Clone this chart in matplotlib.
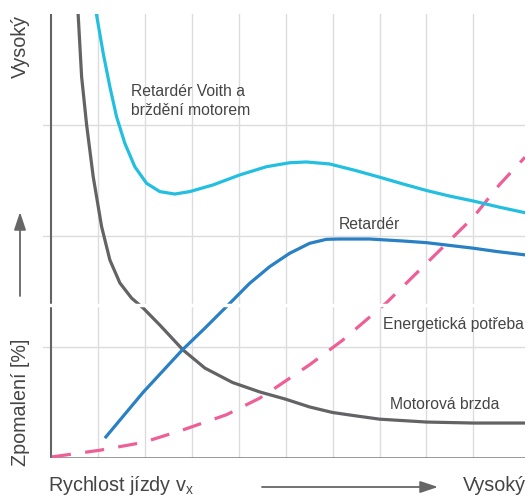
import matplotlib
matplotlib.use("Agg")
import matplotlib.pyplot as plt

plt.rcParams['font.family'] = ['Liberation Sans', 'DejaVu Sans']

# Data (x: speed units, y: deceleration units)
motor_x = [0.58, 0.653, 0.76, 0.90, 1.079, 1.255, 1.468, 1.717, 1.964, 2.319, 2.815, 3.28, 3.87,
           4.45, 5.0, 5.51, 6.0, 6.49, 7.0, 8.0, 9.0, 10.1]
motor_y = [3.99, 3.435, 3.0, 2.534, 2.084, 1.784, 1.577, 1.441, 1.351, 1.198, 0.973, 0.81, 0.68,
           0.595, 0.53, 0.46, 0.41, 0.38, 0.35, 0.324, 0.315, 0.315]

voith_x = [0.972, 1.113, 1.255, 1.397, 1.574, 1.787, 2.036, 2.319, 2.638, 2.957, 3.453, 4.021,
           4.589, 5.085, 5.44, 5.936, 6.49, 7.0, 7.49, 8.0, 8.49, 9.0, 9.55, 10.1]
voith_y = [3.99, 3.646, 3.345, 3.075, 2.835, 2.624, 2.475, 2.4, 2.378, 2.4, 2.46, 2.55,
           2.624, 2.66, 2.667, 2.649, 2.59, 2.53, 2.47, 2.41, 2.36, 2.315, 2.26, 2.21]

ret_x = [1.17, 1.96, 2.79, 3.28, 3.809, 4.234, 4.66, 5.085, 5.51, 5.866, 6.149, 6.787, 7.5,
         8.0, 8.5, 9.0, 9.5, 10.1]
ret_y = [0.19, 0.59, 0.97, 1.17, 1.393, 1.574, 1.724, 1.844, 1.934, 1.97, 1.973, 1.973, 1.955,
         1.94, 1.915, 1.89, 1.86, 1.83]

energy_x = [0.02, 1.04, 1.96, 2.79, 3.74, 4.45, 4.81, 5.51, 6.21, 7.15, 8.28, 9.0, 9.55, 10.1]
energy_y = [0.01, 0.07, 0.14, 0.25, 0.39, 0.54, 0.64, 0.84, 1.06, 1.40, 1.87, 2.17, 2.46, 2.71]

grid_x = [1, 2, 3, 4, 5, 6, 7, 8, 9]
grid_y = [1, 2, 3]

# Prepare Plot
fig = plt.figure(figsize=(5.3, 4.98), dpi=100)
ax = fig.add_axes([0.0811, 0.0803, 0.9095, 0.8916])
ax.set_xlim(-0.17, 10.1)
ax.set_ylim(0, 4)
ax.axis('off')

# Grid
for gx in grid_x:
    ax.plot([gx, gx], [0, 4], color='#dcdcdc', lw=1, zorder=1)
for gy in grid_y:
    ax.plot([-0.17, 10.1], [gy, gy], color='#dcdcdc', lw=1, zorder=1)

# Axes lines
ax.plot([0, 0], [0, 4], color='#636366', lw=1.5, zorder=2)
ax.plot([0, 10.1], [0, 0], color='#7a7a7c', lw=1.8, zorder=2)

# Curves
ax.plot(energy_x, energy_y, color='#ef5f97', lw=2.3, dashes=(6, 4.5), zorder=3)
ax.plot(motor_x, motor_y, color='#636366', lw=2.3, zorder=4, solid_joinstyle='round')
ax.plot(voith_x, voith_y, color='#22bfe0', lw=2.3, zorder=4, solid_joinstyle='round')
ax.plot(ret_x, ret_y, color='#2a80c4', lw=2.3, zorder=5, solid_joinstyle='round')

# Axis break
ax.plot([-0.17, 10.1], [1.378, 1.378], color='white', lw=2.5, zorder=10)

# Labels on curves
tc = '#454545'
fs = 11.3
ax.text(1.70, 3.216, 'Retardér Voith a\nbrždění motorem', fontsize=fs, color=tc,
        ha='left', va='center', linespacing=1.4)
ax.text(6.13, 2.10, 'Retardér', fontsize=fs, color=tc, ha='left', va='center')
ax.text(7.08, 1.2, 'Energetická potřeba', fontsize=fs, color=tc, ha='left', va='center')
ax.text(7.23, 0.48, 'Motorová brzda', fontsize=fs, color=tc, ha='left', va='center')

# Outer axis texts
fig.text(0.038, 0.906, 'Vysoký', rotation=90, fontsize=14.2, color=tc, ha='center', va='center')
fig.text(0.038, 0.193, 'Zpomalení [%]', rotation=90, fontsize=14.2, color=tc, ha='center', va='center')
fig.text(0.09, 0.026, r'Rychlost jízdy v$_\mathregular{x}$', fontsize=14.2, color=tc, ha='left', va='center')
fig.text(0.992, 0.026, 'Vysoký', fontsize=14.2, color=tc, ha='right', va='center')

arrow = dict(arrowstyle='-|>,head_length=0.9,head_width=0.3', color='#666666', lw=1.3,
             shrinkA=0, shrinkB=0)
fig.patches.append(matplotlib.patches.FancyArrowPatch(
    (262 / 530, 1 - 487 / 498), (438 / 530, 1 - 487 / 498),
    transform=fig.transFigure, mutation_scale=12, **arrow))
fig.patches.append(matplotlib.patches.FancyArrowPatch(
    (20 / 530, 1 - 296 / 498), (20 / 530, 1 - 212 / 498),
    transform=fig.transFigure, mutation_scale=12, **arrow))

plt.savefig('out.png', dpi=100)
